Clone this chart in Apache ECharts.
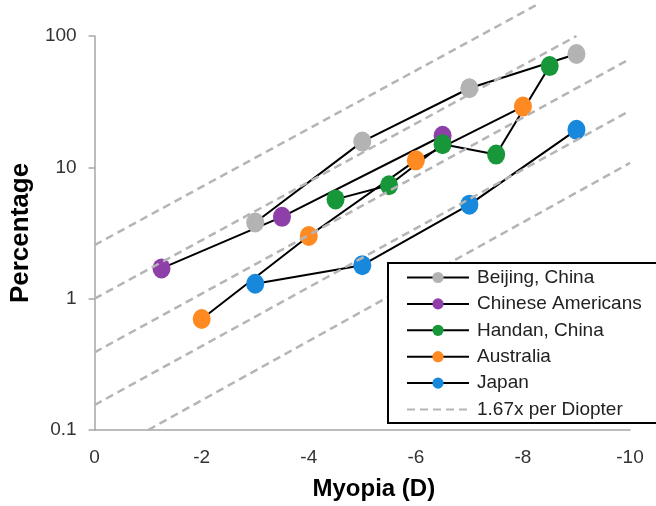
<!DOCTYPE html>
<html>
<head>
<meta charset="utf-8">
<script src="https://cdn.jsdelivr.net/npm/echarts@6/dist/echarts.min.js"></script>
<style>
  html, body { margin: 0; padding: 0; background: #fff; }
  #chart { width: 656px; height: 506px; }
</style>
</head>
<body>
<div id="chart"></div>
<script>
// ---- Data ----
const xTicks = [0, -2, -4, -6, -8, -10];
const yTicks = [0.1, 1, 10, 100];

const beijingX = [-3, -5, -7, -9];
const beijingY = [3.8, 15.7, 40, 73];

const chineseAmericansX = [-1.25, -3.5, -6.5];
const chineseAmericansY = [1.7, 4.2, 17.4];

const handanX = [-4.5, -5.5, -6.5, -7.5, -8.5];
const handanY = [5.7, 7.3, 15, 12.5, 59];

const australiaX = [-2, -4, -6, -8];
const australiaY = [0.7, 3.0, 11.3, 29];

const japanX = [-3, -5, -7, -9];
const japanY = [1.3, 1.8, 5.2, 19.3];

// "1.67x per Diopter" reference lines: start and end points
const refLineAX = [0, -8.25];  const refLineAY = [2.56, 172];
const refLineBX = [0, -9];     const refLineBY = [1.0, 100];
const refLineCX = [0, -10];    const refLineCY = [0.39, 67];
const refLineDX = [0, -10];    const refLineDY = [0.155, 27];
const refLineEX = [-1, -10];   const refLineEY = [0.1, 10.8];

const seriesNames = ['Beijing, China', 'Chinese Americans', 'Handan, China', 'Australia', 'Japan'];
const refName = '1.67x per Diopter';

// ---- Build chart ----
const FONT = '"Liberation Sans", Arial, Helvetica, sans-serif';
const zip = (xs, ys) => xs.map((x, i) => [x, ys[i]]);

const dataSets = [
  { name: seriesNames[0], x: beijingX, y: beijingY, color: '#b3b3b3' },
  { name: seriesNames[1], x: chineseAmericansX, y: chineseAmericansY, color: '#8e3fa8' },
  { name: seriesNames[2], x: handanX, y: handanY, color: '#17963a' },
  { name: seriesNames[3], x: australiaX, y: australiaY, color: '#ff8a22' },
  { name: seriesNames[4], x: japanX, y: japanY, color: '#1888dc' }
];
const refSets = [
  [refLineAX, refLineAY], [refLineBX, refLineBY], [refLineCX, refLineCY],
  [refLineDX, refLineDY], [refLineEX, refLineEY]
];

const series = [];
dataSets.forEach(d => {
  series.push({
    name: d.name,
    type: 'line',
    data: zip(d.x, d.y),
    symbol: 'circle',
    symbolSize: [18, 20],
    showSymbol: true,
    lineStyle: { color: '#000', width: 2 },
    itemStyle: { color: d.color },
    emphasis: { disabled: true },
    z: 2
  });
});
refSets.forEach(r => {
  series.push({
    name: refName,
    type: 'line',
    data: zip(r[0], r[1]),
    symbol: 'none',
    clip: false,
    lineStyle: { color: '#b5b5b5', width: 2.5, type: [8, 5] },
    itemStyle: { color: '#b5b5b5' },
    emphasis: { disabled: true },
    z: 3
  });
});

const legendData = seriesNames.map(n => ({ name: n }));
legendData.push({ name: refName, itemStyle: { color: 'rgba(0,0,0,0)', borderWidth: 0, opacity: 0 } });

const chart = echarts.init(document.getElementById('chart'), null, { renderer: 'canvas' });
chart.setOption({
  animation: false,
  backgroundColor: '#fff',
  textStyle: { fontFamily: FONT },
  grid: { left: 93, right: 26, top: 36, bottom: 74, containLabel: false },
  xAxis: {
    type: 'value',
    min: -10, max: 0, interval: 2,
    inverse: true,
    axisLine: { show: true, onZero: false, lineStyle: { color: '#a6a6a6', width: 1.5 } },
    axisTick: { show: false },
    splitLine: { show: false },
    axisLabel: {
      fontSize: 19, color: '#333', margin: 18, fontFamily: FONT,
      customValues: xTicks
    },
    name: 'Myopia (D)',
    nameLocation: 'middle',
    nameGap: 47,
    nameTextStyle: { fontSize: 24, fontWeight: 'bold', color: '#000', fontFamily: FONT, padding: [0, 0, 0, 23] }
  },
  yAxis: {
    type: 'log',
    logBase: 10,
    min: 0.1, max: 100,
    axisLine: { show: true, lineStyle: { color: '#a6a6a6', width: 1.5 } },
    axisTick: { show: true, length: 6, lineStyle: { color: '#a6a6a6', width: 1.5 } },
    minorTick: { show: false },
    splitLine: { show: false },
    axisLabel: {
      fontSize: 19, color: '#333', margin: 18, fontFamily: FONT,
      formatter: v => {
        const t = yTicks.find(k => Math.abs(k - v) / k < 1e-6);
        return t === undefined ? '' : String(t);
      }
    },
    name: 'Percentage',
    nameLocation: 'middle',
    nameRotate: 90,
    nameGap: 58,
    nameTextStyle: { fontSize: 26, fontWeight: 'bold', color: '#000', fontFamily: FONT }
  },
  legend: {
    orient: 'vertical',
    left: 388,
    top: 263,
    data: legendData,
    backgroundColor: '#fff',
    borderColor: '#000',
    borderWidth: 2,
    borderRadius: 0,
    padding: [5, 40, 4, 18],
    itemWidth: 62,
    itemHeight: 14,
    itemGap: 7.4,
    selectedMode: false,
    textStyle: { fontSize: 19, color: '#222', fontFamily: FONT, padding: [0, 0, 0, 3] },
    z: 10
  },
  series: series
});
</script>
</body>
</html>
